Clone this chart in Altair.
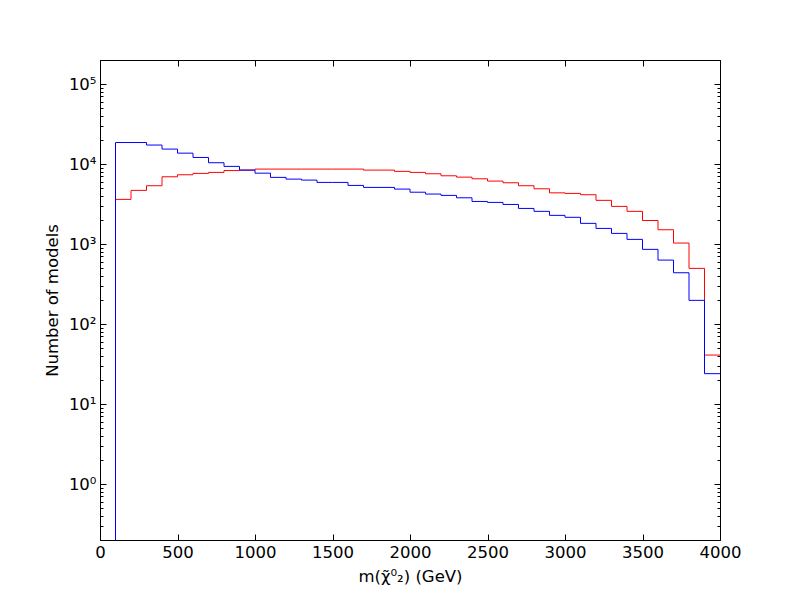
import altair as alt
import pandas as pd

# ---- data ----
bin_starts = list(range(100, 4000, 100))
x_end = 4000
blue_counts = [18600, 18600, 17300, 15400, 13700, 12100, 10400, 9360, 8410, 7700,
               6820, 6490, 6310, 5900, 5900, 5410, 5110, 5110, 4870, 4450,
               4220, 4060, 3790, 3410, 3320, 3130, 2790, 2565, 2285, 2160,
               1815, 1570, 1360, 1145, 859, 631, 438, 198, 24]
red_counts = [3620, 4690, 5360, 6940, 7350, 7650, 7870, 8300, 8410, 8660,
              8660, 8660, 8660, 8660, 8660, 8660, 8410, 8410, 8110, 7870,
              7570, 7140, 6870, 6550, 6130, 5840, 5360, 4910, 4370, 4300,
              4140, 3520, 2960, 2565, 1970, 1510, 1030, 497, 41]
series_names = ["red", "blue"]
series_colors = ["#ff0000", "#0000ff"]

x_domain = [0, 4000]
y_domain = [0.2, 2e5]
x_ticks = list(range(0, 4001, 500))
y_major = [1, 10, 100, 1000, 10000, 100000]
y_minor = [m * 10.0 ** k for k in range(-1, 6) for m in range(2, 10)
           if y_domain[0] <= m * 10.0 ** k <= y_domain[1]]


def step_rows(name, counts):
    rows = [{"series": name, "i": 0, "x": bin_starts[0], "y": y_domain[0]}]
    for j, (e, c) in enumerate(zip(bin_starts, counts)):
        rows.append({"series": name, "i": j + 1, "x": e, "y": c})
    rows.append({"series": name, "i": len(counts) + 1, "x": x_end, "y": counts[-1]})
    return rows


df = pd.DataFrame(step_rows("red", red_counts) + step_rows("blue", blue_counts))

FONT = "DejaVu Sans"
FS = 16.5
xs = alt.Scale(domain=x_domain, nice=False, zero=False)
ys = alt.Scale(type="log", domain=y_domain, nice=False)

sup = "['⁰','¹','²','³','⁴','⁵','⁶'][round(log(datum.value)/LN10)]"

x_bottom = alt.Axis(orient="bottom", values=x_ticks, tickSize=6, offset=-6, domain=False,
                    grid=False, labelPadding=4, format="d", labelFlush=False,
                    title="m(χ̃⁰₂) (GeV)", titlePadding=8)
x_top = alt.Axis(orient="top", values=x_ticks, tickSize=6, offset=-6, domain=False,
                 grid=False, labels=False, title=None)
y_left = alt.Axis(orient="left", values=y_major, tickSize=6, offset=-6, domain=False,
                  grid=False, labelPadding=4, labelExpr="'10' + " + sup, labelFlush=False,
                  title="Number of models", titlePadding=8)
y_right = alt.Axis(orient="right", values=y_major, tickSize=6, offset=-6, domain=False,
                   grid=False, labels=False, title=None)
y_left_minor = alt.Axis(orient="left", values=y_minor, tickSize=3, offset=-3, domain=False,
                        grid=False, labels=False, title=None)
y_right_minor = alt.Axis(orient="right", values=y_minor, tickSize=3, offset=-3, domain=False,
                         grid=False, labels=False, title=None)

base = alt.Chart(df)


def hist_layer(name, color, xaxis, yaxis):
    return base.transform_filter(alt.datum.series == name).mark_line(
        color=color, strokeWidth=1, interpolate="step-after", clip=True
    ).encode(
        x=alt.X("x:Q", scale=xs, axis=xaxis),
        y=alt.Y("y:Q", scale=ys, axis=yaxis),
        order=alt.Order("i:Q"),
    )


red = hist_layer(series_names[0], series_colors[0], x_bottom, y_left)
blue = hist_layer(series_names[1], series_colors[1], x_top, y_right)

minor_l = base.mark_point(opacity=0).encode(
    x=alt.X("x:Q", scale=xs, axis=None),
    y=alt.Y("y:Q", scale=ys, axis=y_left_minor),
)
minor_r = base.mark_point(opacity=0).encode(
    x=alt.X("x:Q", scale=xs, axis=None),
    y=alt.Y("y:Q", scale=ys, axis=y_right_minor),
)

chart = alt.layer(red, blue, minor_l, minor_r).resolve_axis(
    x="independent", y="independent"
).properties(
    width=620, height=480,
    autosize=alt.AutoSizeParams(type="none"),
    padding={"left": 92, "top": 52, "right": 72, "bottom": 52},
    background="white",
).configure_view(
    stroke="black", strokeWidth=1
).configure_axis(
    labelFont=FONT, labelFontSize=FS, labelColor="black",
    titleFont=FONT, titleFontSize=FS, titleColor="black", titleFontWeight="normal",
    tickColor="black", tickWidth=1,
)

chart.save("out.html", embed_options={"renderer": "svg", "actions": False})
